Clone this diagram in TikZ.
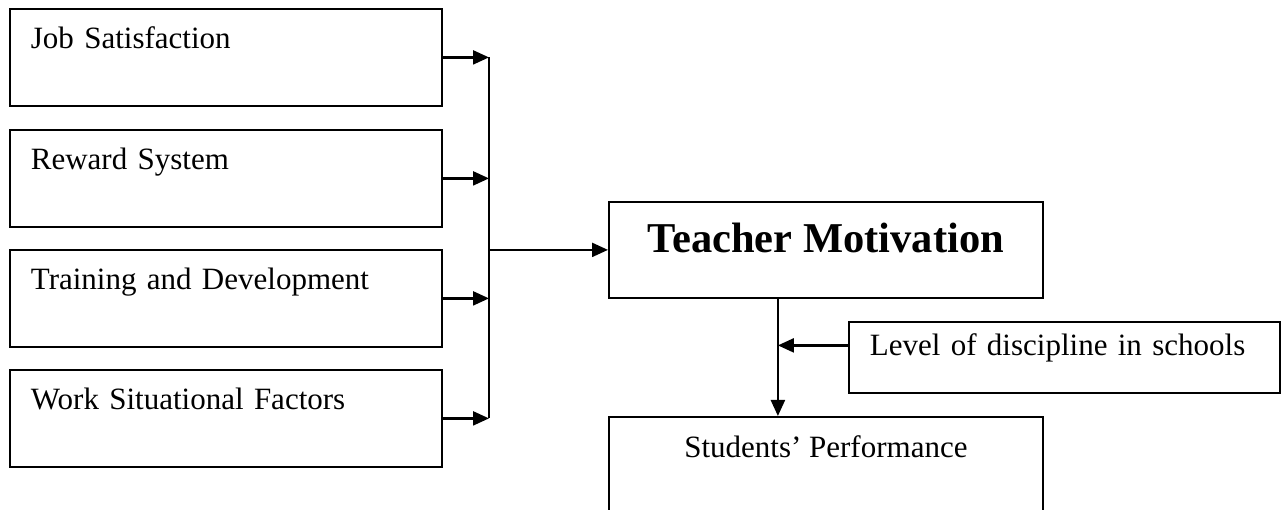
\documentclass[tikz,border=0pt]{standalone}
\usepackage{fontspec}
\setmainfont{Liberation Serif}
\usepackage{tikz}
\usetikzlibrary{arrows.meta}
\usetikzlibrary{positioning}

\begin{document}
\begin{tikzpicture}[x=1pt,y=-1pt]
        \tikzstyle{factor}=[draw=black,line width=1.8pt,inner xsep=21pt,inner ysep=0pt,text width=390pt,align=left,text height=40pt,text depth=57pt,font=\fontsize{31pt}{36pt}\selectfont]
        \tikzstyle{central}=[draw=black,line width=1.8pt,inner sep=0pt,minimum width=434pt,text height=51pt,text depth=45pt,font=\fontsize{42.5pt}{48pt}\selectfont\bfseries]
        \tikzstyle{edge}=[draw,line width=2.3pt,-{Triangle[length=16pt,width=14pt]}]
        \useasboundingbox (0,0) rectangle (1283,510);
        \clip (0,0) rectangle (1283,510);
       \begin{scope}
         % inputs
         \node [factor,anchor=north west] (f1) at (9,8) {Job Satisfaction};
         \node [factor,anchor=north west] (f2) at (9,129) {Reward System};
         \node [factor,anchor=north west] (f3) at (9,249) {Training and Development};
         \node [factor,anchor=north west] (f4) at (9,369) {Work Situational Factors};
         \coordinate (bus) at (489,57);
         % outcome side
         \node [central,anchor=north west] (tm) at (608,201) {Teacher Motivation};
         \node [factor,anchor=north west,text width=389pt,text height=34pt,text depth=37pt] (lvl) at (848,321) {Level of discipline in schools};
         \node [central,anchor=north west,font=\fontsize{31pt}{36pt}\selectfont,text height=41pt,text depth=90pt] (sp) at (608,416) {Students’ Performance};
         \coordinate (drop) at ([xshift=-48pt]tm.south);
         \coordinate (lv) at ([yshift=12pt]lvl.west);
         \path[edge] (f1.east) -- (f1.east -| bus);
         \path[edge] (f2.east) -- (f2.east -| bus);
         \path[edge] (f3.east) -- (f3.east -| bus);
         \path[edge] (f4.east) -- (f4.east -| bus);
         \draw[line width=2.3pt] (f1.east -| bus) -- (f4.east -| bus);
         \path[edge] (tm.west -| bus) -- (tm.west);
         \path[edge] (drop) -- (drop |- sp.north);
         \path[edge] (lv) -- (lv -| drop);
        \end{scope}
\end{tikzpicture}
\end{document}
